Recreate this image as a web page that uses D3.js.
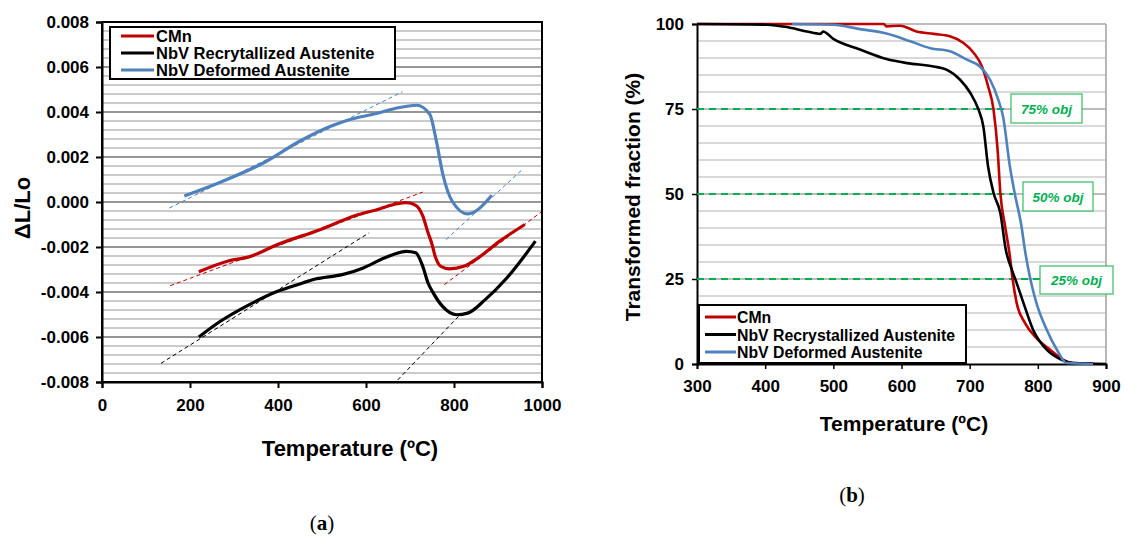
<!DOCTYPE html>
<html lang="en">
<head>
<meta charset="UTF-8">
<title>Dilatometry and transformed fraction</title>
<script src="https://d3js.org/d3.v7.min.js"></script>
<style>
  body { margin: 0; background: #fff; }
  svg text { font-family: "Liberation Sans", Arial, sans-serif; }
  .tick text { font-size: 17px; font-weight: bold; fill: #000; }
  .title { font-size: 22px; font-weight: bold; }
  .titleb { font-size: 21px; font-weight: bold; }
  .leg { font-size: 16.5px; font-weight: bold; }
  .legb { font-size: 15.8px; font-weight: bold; }
  .cap { font-family: "Liberation Serif", "DejaVu Serif", serif; font-size: 21px; }
  .obj { font-size: 13.5px; font-weight: bold; font-style: italic; fill: #00b050; }
</style>
</head>
<body>
<svg id="fig" width="1129" height="540"></svg>
<script>
// ---- data: (a) dilatometry curves [T, dL/Lo] ----
const seriesNames = ["CMn", "NbV Recrytallized Austenite", "NbV Deformed Austenite"];
const seriesNamesB = ["CMn", "NbV Recrystallized Austenite", "NbV Deformed Austenite"];
const seriesColors = ["#c00000", "#000000", "#4f81bd"];

const cmnDil = [[220,-0.0031],[285,-0.00263],[334,-0.00244],[399,-0.00189],[497,-0.00122],[578,-0.00059],
  [627,-0.00033],[668,-0.00009],[692,-0.00003],[713,-0.00015],[729,-0.00062],[741,-0.00137],[749,-0.00181],
  [757,-0.0024],[770,-0.00286],[790,-0.00297],[822,-0.00286],[855,-0.00248],[904,-0.00174],[961,-0.001]];
const recDil = [[220,-0.006],[269,-0.0053],[334,-0.00457],[399,-0.00397],[456,-0.0036],[485,-0.00342],
  [497,-0.00338],[546,-0.00323],[594,-0.00293],[643,-0.00248],[692,-0.00219],[713,-0.00226],[729,-0.00286],
  [741,-0.0036],[753,-0.00405],[774,-0.00464],[806,-0.00501],[831,-0.00494],[871,-0.00434],[920,-0.00338],[985,-0.00174]];
const defDil = [[187,0.00027],[259,0.0008],[373,0.0018],[449,0.0027],[524,0.0034],[570,0.0037],[616,0.0039],
  [677,0.0042],[715,0.0043],[745,0.0039],[760,0.0027],[775,0.0012],[797,0.0],[831,-0.00053],[886,0.0003]];

// tangent (dashed) lines, [x1, y1, x2, y2, series]
const tangents = [
  [155,-0.00372,729,0.00044,0],[778,-0.00367,998,-0.00045,0],
  [134,-0.00717,607,-0.00137,1],[672,-0.00791,810,-0.00509,1],
  [153,-0.00027,683,0.0049,2],[782,-0.00167,954,0.00142,2]
];
const dilTicksX = [0, 200, 400, 600, 800, 1000];
const dilTicksY = [-0.008, -0.006, -0.004, -0.002, 0, 0.002, 0.004, 0.006, 0.008];

// ---- data: (b) transformed fraction [T, %] ----
const cmnFrac = [[300,100],[520,100],[574,100],[578,99.3],[598,99.5],[622,97.8],[647,97.1],[671,96.4],[691,94.4],
  [706,91.5],[718,87.5],[727,81.7],[735,74.8],[741,63],[745,50.3],[752,40.5],[759,31.7],[763,25],[769,17.9],
  [781,12.1],[798,7.6],[818,4.2],[837,1.3],[852,0.3],[881,0.2]];
const recFrac = [[300,100],[403,99.8],[432,99.1],[461,97.8],[481,97.1],[485,97.8],[500,95.6],[539,92.5],[578,89.7],
  [608,88.5],[647,87.5],[666,86.6],[686,83.6],[701,79.7],[713,74.8],[720,69.9],[727,58.1],[735,50.3],[745,44.4],
  [753,33.6],[762,27.7],[769,23.8],[779,17.9],[793,10.1],[813,4.2],[832,1.5],[852,0.3],[900,0]];
const defFrac = [[439,100],[500,99.8],[539,98.5],[578,97.2],[613,94.9],[642,92.9],[671,92],[696,89.5],[715,87.5],
  [730,83.6],[742,77.7],[749,72.8],[759,58.1],[766,50.3],[776,40.5],[781,33.6],[789,25],[798,17.9],[813,10.1],
  [828,4.2],[842,0.3],[881,0]];
const objLevels = [75, 50, 25];
const objLabels = ["75% obj", "50% obj", "25% obj"];
const fracTicksX = [300, 400, 500, 600, 700, 800, 900];
const fracTicksY = [0, 25, 50, 75, 100];

const svg = d3.select("#fig");

// ================= (a) =================
const xa = d3.scaleLinear().domain([0, 1000]).range([102, 542]);
const ya = d3.scaleLinear().domain([-0.008, 0.008]).range([382, 22]);

const ga = svg.append("g");
// grid
ga.selectAll(".minor").data(d3.range(-0.008, 0.0081, 0.0004)).enter().append("line")
  .attr("x1", xa(0)).attr("x2", xa(1000))
  .attr("y1", d => ya(d)).attr("y2", d => ya(d))
  .attr("stroke", (d, i) => i % 5 === 0 ? "#969696" : "#cbcbcb").attr("stroke-width", 1.8);

ga.append("rect").attr("x", xa(0)).attr("y", ya(0.008))
  .attr("width", xa(1000) - xa(0)).attr("height", ya(-0.008) - ya(0.008))
  .attr("fill", "none").attr("stroke", "#000").attr("stroke-width", 2);

const axXa = ga.append("g").attr("transform", `translate(0,${ya(-0.008)})`)
  .call(d3.axisBottom(xa).tickValues(dilTicksX).tickSize(6).tickPadding(11).tickFormat(d3.format("d")));
const axYa = ga.append("g").attr("transform", `translate(${xa(0)},0)`)
  .call(d3.axisLeft(ya).tickValues(dilTicksY).tickSize(6).tickPadding(7).tickFormat(d3.format(".3f")));
[axXa, axYa].forEach(a => { a.select(".domain").attr("stroke-width", 2); a.selectAll(".tick line").attr("stroke-width", 2); });
axYa.selectAll(".tick text").text(d => d3.format(".3f")(d).replace("−", "-"));

ga.selectAll(".tan").data(tangents).enter().append("line")
  .attr("x1", d => xa(d[0])).attr("y1", d => ya(d[1]))
  .attr("x2", d => xa(d[2])).attr("y2", d => ya(d[3]))
  .attr("stroke", d => seriesColors[d[4]]).attr("stroke-width", 1).attr("stroke-dasharray", "4,3");

const lineA = d3.line().x(d => xa(d[0])).y(d => ya(d[1])).curve(d3.curveMonotoneX);
[cmnDil, recDil, defDil].forEach((s, i) => {
  ga.append("path").attr("d", lineA(s)).attr("fill", "none")
    .attr("stroke", seriesColors[i]).attr("stroke-width", 3.2);
});

ga.append("text").attr("class", "title").attr("text-anchor", "middle")
  .attr("transform", "translate(30,208) rotate(-90)").text("ΔL/Lo");
ga.append("text").attr("class", "title").attr("text-anchor", "middle")
  .attr("x", 350).attr("y", 456).text("Temperature (ºC)");

// legend (a)
const la = ga.append("g");
la.append("rect").attr("x", 110).attr("y", 27).attr("width", 285).attr("height", 52)
  .attr("fill", "#fff").attr("stroke", "#000").attr("stroke-width", 2);
seriesNames.forEach((n, i) => {
  const y = 36 + i * 17;
  la.append("line").attr("x1", 121).attr("x2", 154).attr("y1", y).attr("y2", y)
    .attr("stroke", seriesColors[i]).attr("stroke-width", 3.2);
  la.append("text").attr("class", "leg").attr("x", 156).attr("y", y + 6).text(n);
});

svg.append("text").attr("class", "cap").attr("x", 322).attr("y", 530).attr("text-anchor", "middle")
  .html('(<tspan font-weight="bold">a</tspan>)');

// ================= (b) =================
const xb = d3.scaleLinear().domain([300, 900]).range([697, 1106]);
const yb = d3.scaleLinear().domain([0, 100]).range([364, 24]);
const gb = svg.append("g");

gb.selectAll(".gridb").data(d3.range(5, 101, 5)).enter().append("line")
  .attr("x1", xb(300)).attr("x2", xb(900))
  .attr("y1", d => yb(d)).attr("y2", d => yb(d))
  .attr("stroke", d => d % 25 === 0 ? "#a6a6a6" : "#cccccc").attr("stroke-width", 1.6);
gb.append("line").attr("x1", xb(900)).attr("x2", xb(900)).attr("y1", yb(0)).attr("y2", yb(100))
  .attr("stroke", "#a6a6a6").attr("stroke-width", 1.6);

const axXb = gb.append("g").attr("transform", `translate(0,${yb(0)})`)
  .call(d3.axisBottom(xb).tickValues(fracTicksX).tickSize(5).tickPadding(11).tickFormat(d3.format("d")));
const axYb = gb.append("g").attr("transform", `translate(${xb(300)},0)`)
  .call(d3.axisLeft(yb).tickValues(fracTicksY).tickSize(5).tickPadding(8).tickFormat(d3.format("d")));
[axXb, axYb].forEach(a => { a.select(".domain").attr("stroke-width", 2); a.selectAll(".tick line").attr("stroke-width", 1.5); });

// objective levels
const objEnd = [1008, 1013, 1040];
const objBox = [[1011, 94, 71, 29], [1023, 182, 70, 29], [1040, 266, 73, 28]];
objLevels.forEach((lv, i) => {
  gb.append("line").attr("x1", xb(300)).attr("x2", objEnd[i]).attr("y1", yb(lv)).attr("y2", yb(lv))
    .attr("stroke", "#00b050").attr("stroke-width", 2).attr("stroke-dasharray", "7,5");
});

const lineB = d3.line().x(d => xb(d[0])).y(d => yb(d[1])).curve(d3.curveMonotoneX);
[cmnFrac, recFrac, defFrac].forEach((s, i) => {
  gb.append("path").attr("d", lineB(s)).attr("fill", "none")
    .attr("stroke", seriesColors[i]).attr("stroke-width", 2.6);
});

objLevels.forEach((lv, i) => {
  const b = objBox[i];
  gb.append("rect").attr("x", b[0]).attr("y", b[1]).attr("width", b[2]).attr("height", b[3])
    .attr("fill", "#fff").attr("stroke", "#2fbf5f").attr("stroke-width", 1.2);
  gb.append("text").attr("class", "obj").attr("text-anchor", "middle")
    .attr("x", b[0] + b[2] / 2).attr("y", b[1] + b[3] / 2 + 5).text(objLabels[i]);
});

gb.append("text").attr("class", "titleb").attr("text-anchor", "middle")
  .attr("transform", "translate(640,197) rotate(-90)").text("Transformed fraction (%)");
gb.append("text").attr("class", "titleb").attr("text-anchor", "middle")
  .attr("x", 904).attr("y", 431).text("Temperature (ºC)");

// legend (b)
const lb = gb.append("g");
lb.append("rect").attr("x", 699).attr("y", 305).attr("width", 267).attr("height", 58)
  .attr("fill", "#fff").attr("stroke", "#000").attr("stroke-width", 2);
seriesNamesB.forEach((n, i) => {
  const y = 317 + i * 17.5;
  lb.append("line").attr("x1", 705).attr("x2", 736).attr("y1", y).attr("y2", y)
    .attr("stroke", seriesColors[i]).attr("stroke-width", 3);
  lb.append("text").attr("class", "legb").attr("x", 737).attr("y", y + 6).text(n);
});

svg.append("text").attr("class", "cap").attr("x", 852).attr("y", 502).attr("text-anchor", "middle")
  .html('(<tspan font-weight="bold">b</tspan>)');
</script>
</body>
</html>
